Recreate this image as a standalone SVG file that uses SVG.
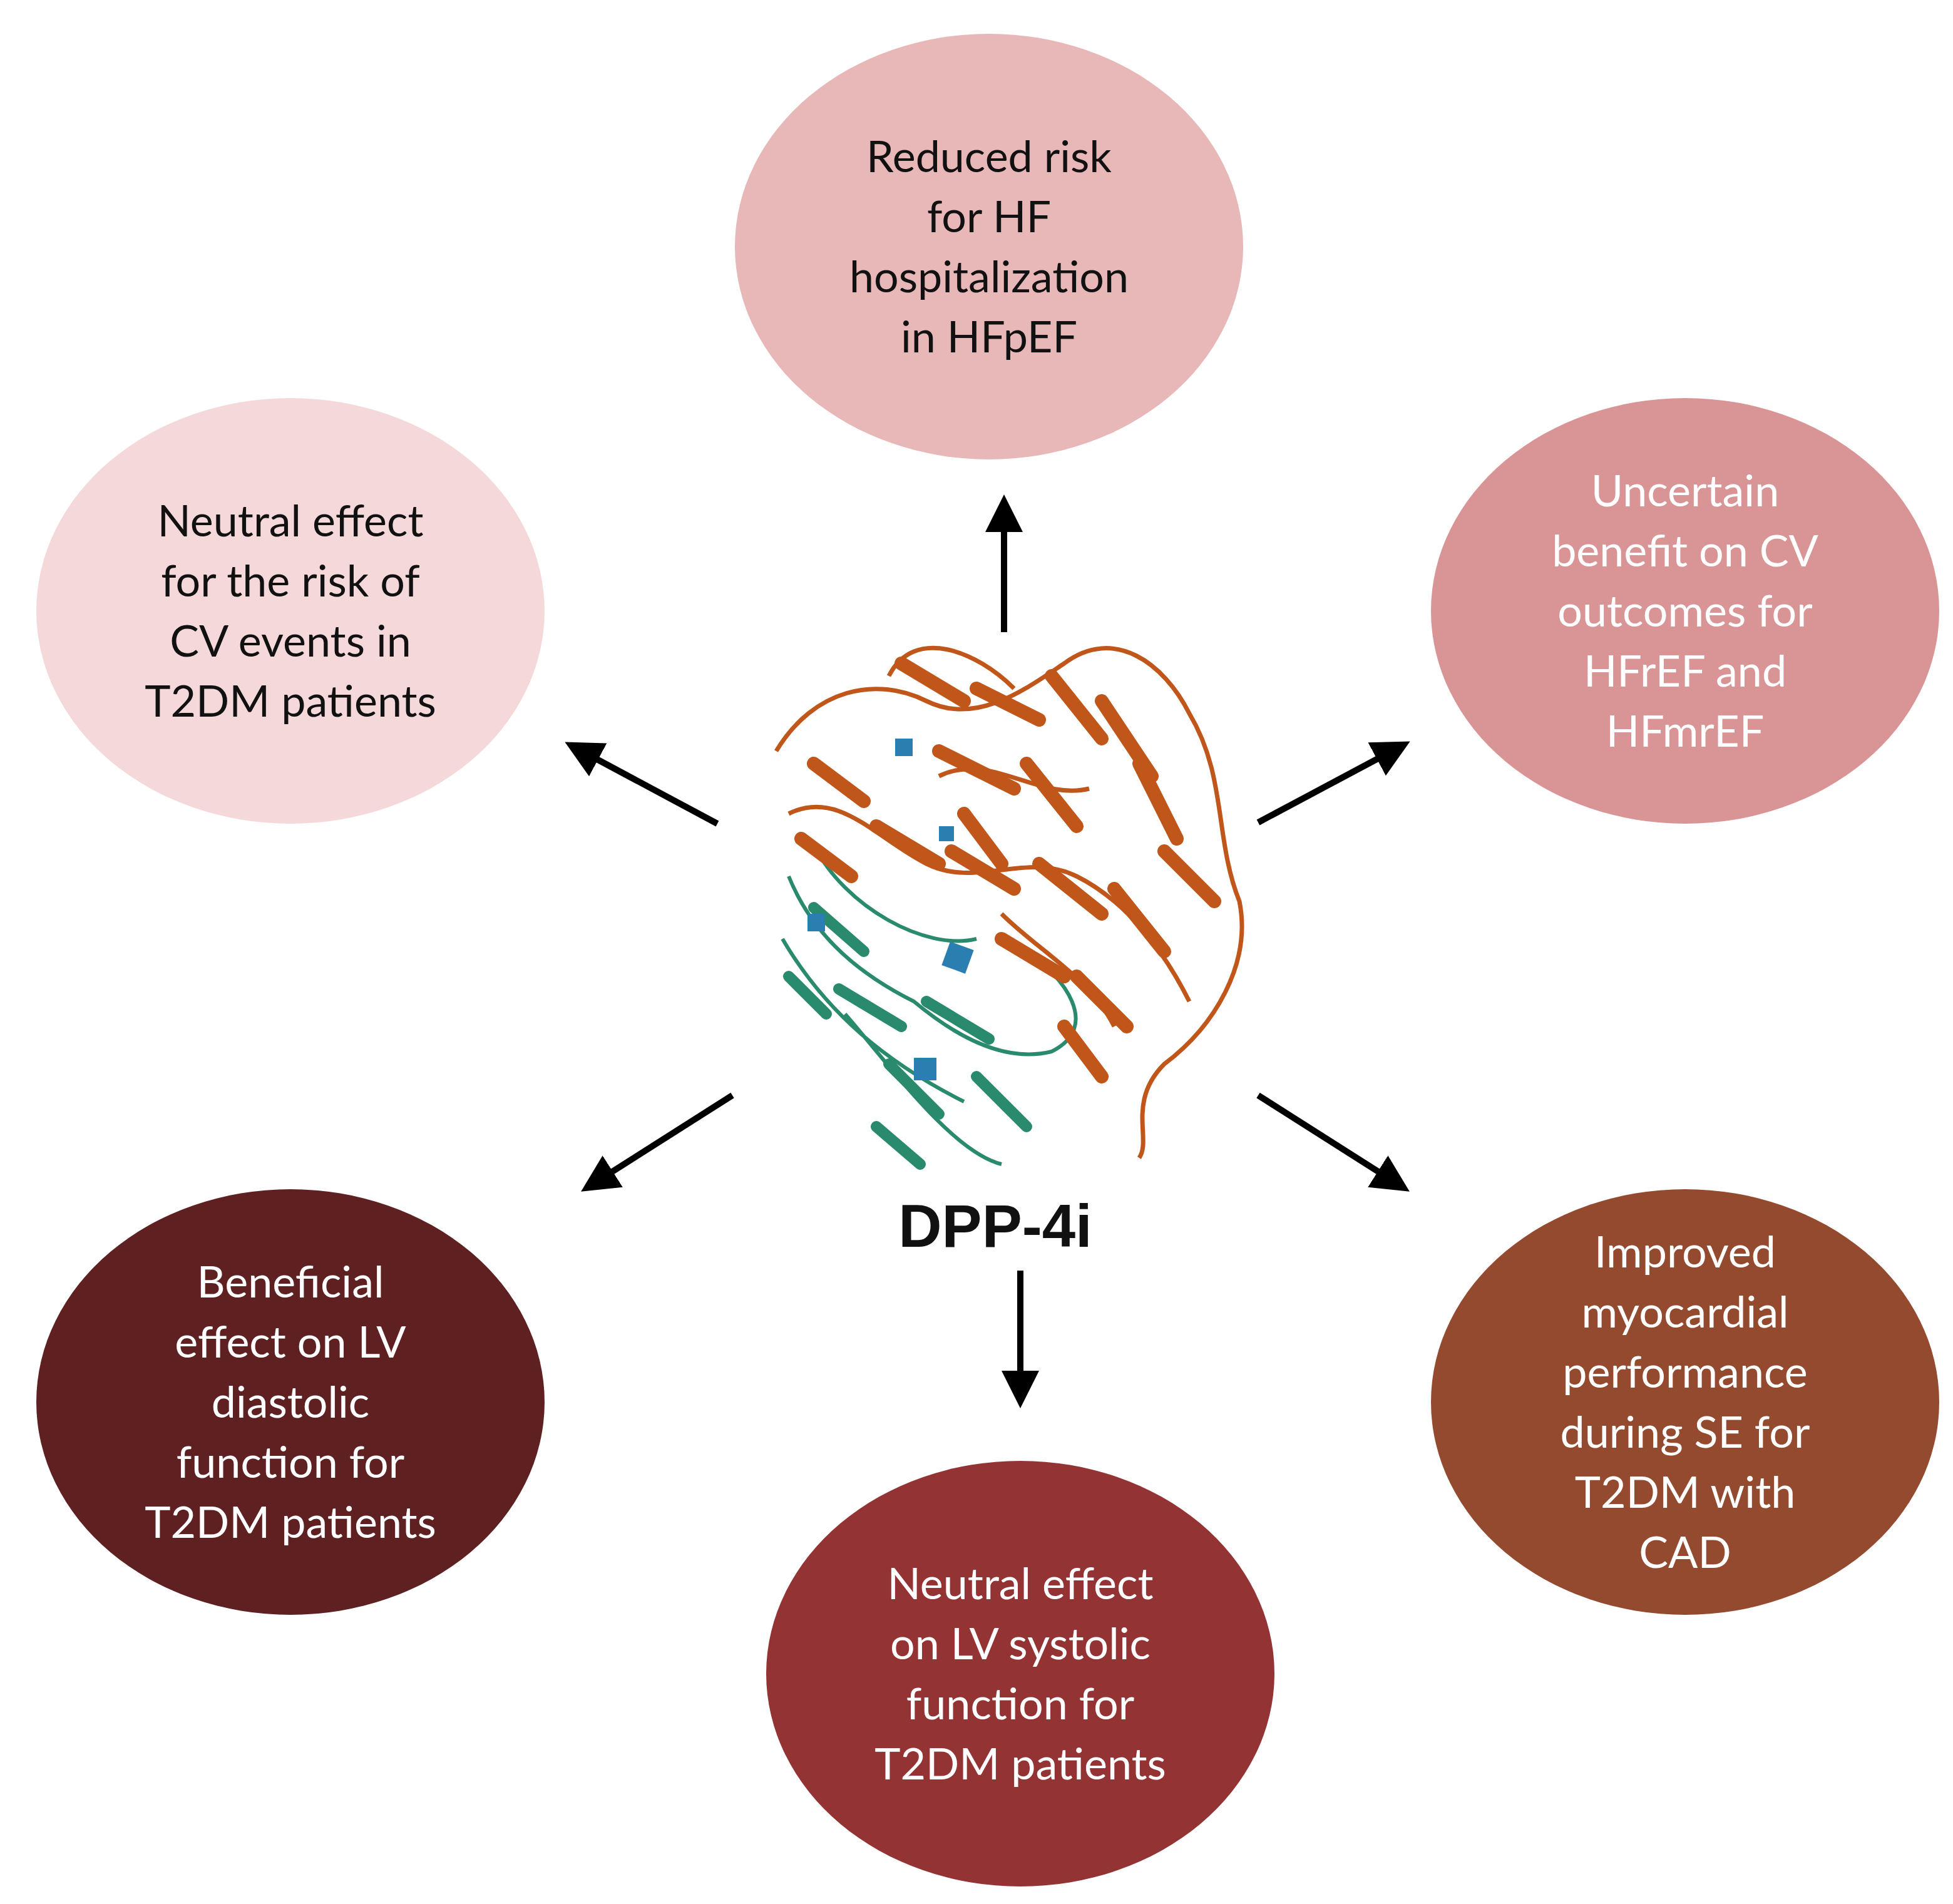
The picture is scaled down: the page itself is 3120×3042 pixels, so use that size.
<svg xmlns="http://www.w3.org/2000/svg" width="3120" height="3042" viewBox="0 0 3120 3042">
<style>
.t{font-family:"Lato","Liberation Sans",sans-serif;font-size:70px;text-anchor:middle}
.d{fill:#111}.w{fill:#fff}
.a{stroke:#000;stroke-width:10;fill:none;marker-end:url(#ah)}
.o{fill:none;stroke:#c0561a;stroke-width:7}
.ob{fill:none;stroke:#c0561a;stroke-width:22;stroke-linecap:round}
.g{fill:none;stroke:#2a8a6e;stroke-width:6}
.gb{fill:none;stroke:#2a8a6e;stroke-width:18;stroke-linecap:round}
</style>
<defs>
<marker id="ah" markerWidth="6" markerHeight="6" refX="4" refY="3" orient="auto" markerUnits="strokeWidth">
<path d="M0,0 L6,3 L0,6 Z" fill="#000"/>
</marker>
</defs>
<rect width="3120" height="3042" fill="#fff"/>
<g id="protein">
<path class="g" d="M1260,1400 C1300,1500 1380,1560 1460,1600 C1520,1650 1600,1700 1680,1680 C1760,1640 1700,1560 1640,1520 M1250,1500 C1320,1620 1420,1700 1540,1760 M1300,1350 C1350,1450 1480,1520 1560,1500 M1350,1620 C1420,1700 1520,1840 1600,1860"/>
<path class="gb" d="M1300,1450 L1380,1520 M1340,1580 L1440,1640 M1420,1700 L1500,1780 M1480,1600 L1580,1660 M1560,1720 L1640,1800 M1260,1560 L1320,1620 M1400,1800 L1470,1860"/>
<path class="o" d="M1240,1200 C1300,1100 1400,1080 1480,1120 C1560,1160 1640,1100 1700,1060 C1780,1000 1860,1060 1900,1140 C1960,1240 1940,1340 1980,1440 C2000,1540 1940,1640 1860,1700 C1800,1760 1840,1820 1820,1850 M1420,1080 C1460,1000 1560,1040 1620,1100 M1260,1300 C1340,1260 1400,1340 1480,1380 C1560,1420 1640,1360 1720,1400 C1800,1440 1860,1520 1900,1600 M1500,1240 C1580,1200 1660,1280 1740,1260 M1600,1460 C1660,1520 1740,1560 1780,1640"/>
<path class="ob" d="M1440,1060 L1540,1120 M1560,1100 L1660,1150 M1680,1080 L1760,1180 M1760,1120 L1840,1240 M1820,1220 L1880,1340 M1860,1360 L1940,1440 M1500,1200 L1620,1260 M1640,1220 L1720,1320 M1400,1320 L1500,1380 M1520,1360 L1620,1420 M1660,1380 L1760,1460 M1780,1420 L1860,1520 M1600,1500 L1700,1560 M1720,1560 L1800,1640 M1300,1220 L1380,1280 M1280,1340 L1360,1400 M1540,1300 L1600,1380 M1700,1640 L1760,1720"/>
<rect x="1510" y="1510" width="40" height="40" fill="#2a7fb0" transform="rotate(20 1530 1530)"/>
<rect x="1460" y="1690" width="36" height="36" fill="#2a7fb0"/>
<rect x="1290" y="1460" width="28" height="28" fill="#2a7fb0"/>
<rect x="1430" y="1180" width="28" height="28" fill="#2a7fb0"/>
<rect x="1500" y="1320" width="24" height="24" fill="#2a7fb0"/>
</g>
<g id="connectors">
<line class="a" x1="1604" y1="1010" x2="1604" y2="810"/>
<line class="a" x1="1146" y1="1316" x2="920" y2="1195"/>
<line class="a" x1="2010" y1="1314" x2="2235" y2="1194"/>
<line class="a" x1="1170" y1="1750" x2="945" y2="1893"/>
<line class="a" x1="1630" y1="2030" x2="1630" y2="2230"/>
<line class="a" x1="2010" y1="1750" x2="2235" y2="1893"/>
</g>
<g id="center"><text x="1590" y="1992" style="font-family:'Liberation Sans',sans-serif;font-weight:bold;font-size:96px;text-anchor:middle" fill="#111">DPP-4i</text></g>
<g id="n_top"><ellipse cx="1580" cy="394" rx="406" ry="340" fill="#e8b7b8"/>
<text class="t d"><tspan x="1580" y="275">Reduced risk</tspan><tspan x="1580" y="371">for HF</tspan><tspan x="1580" y="467">hospitalization</tspan><tspan x="1580" y="563">in HFpEF</tspan></text></g>
<g id="n_ul"><ellipse cx="464" cy="976" rx="406" ry="340" fill="#f5d9da"/>
<text class="t d"><tspan x="464" y="857">Neutral effect</tspan><tspan x="464" y="953">for the risk of</tspan><tspan x="464" y="1049">CV events in</tspan><tspan x="464" y="1145">T2DM patients</tspan></text></g>
<g id="n_ur"><ellipse cx="2692" cy="976" rx="406" ry="340" fill="#d99495"/>
<text class="t w"><tspan x="2692" y="809">Uncertain</tspan><tspan x="2692" y="905">benefit on CV</tspan><tspan x="2692" y="1001">outcomes for</tspan><tspan x="2692" y="1097">HFrEF and</tspan><tspan x="2692" y="1193">HFmrEF</tspan></text></g>
<g id="n_ll"><ellipse cx="464" cy="2240" rx="406" ry="340" fill="#5e2021"/>
<text class="t w"><tspan x="464" y="2073">Beneficial</tspan><tspan x="464" y="2169">effect on LV</tspan><tspan x="464" y="2265">diastolic</tspan><tspan x="464" y="2361">function for</tspan><tspan x="464" y="2457">T2DM patients</tspan></text></g>
<g id="n_b"><ellipse cx="1630" cy="2674" rx="406" ry="340" fill="#943334"/>
<text class="t w"><tspan x="1630" y="2555">Neutral effect</tspan><tspan x="1630" y="2651">on LV systolic</tspan><tspan x="1630" y="2747">function for</tspan><tspan x="1630" y="2843">T2DM patients</tspan></text></g>
<g id="n_lr"><ellipse cx="2692" cy="2240" rx="406" ry="340" fill="#944a2e"/>
<text class="t w"><tspan x="2692" y="2025">Improved</tspan><tspan x="2692" y="2121">myocardial</tspan><tspan x="2692" y="2217">performance</tspan><tspan x="2692" y="2313">during SE for</tspan><tspan x="2692" y="2409">T2DM with</tspan><tspan x="2692" y="2505">CAD</tspan></text></g>
</svg>
